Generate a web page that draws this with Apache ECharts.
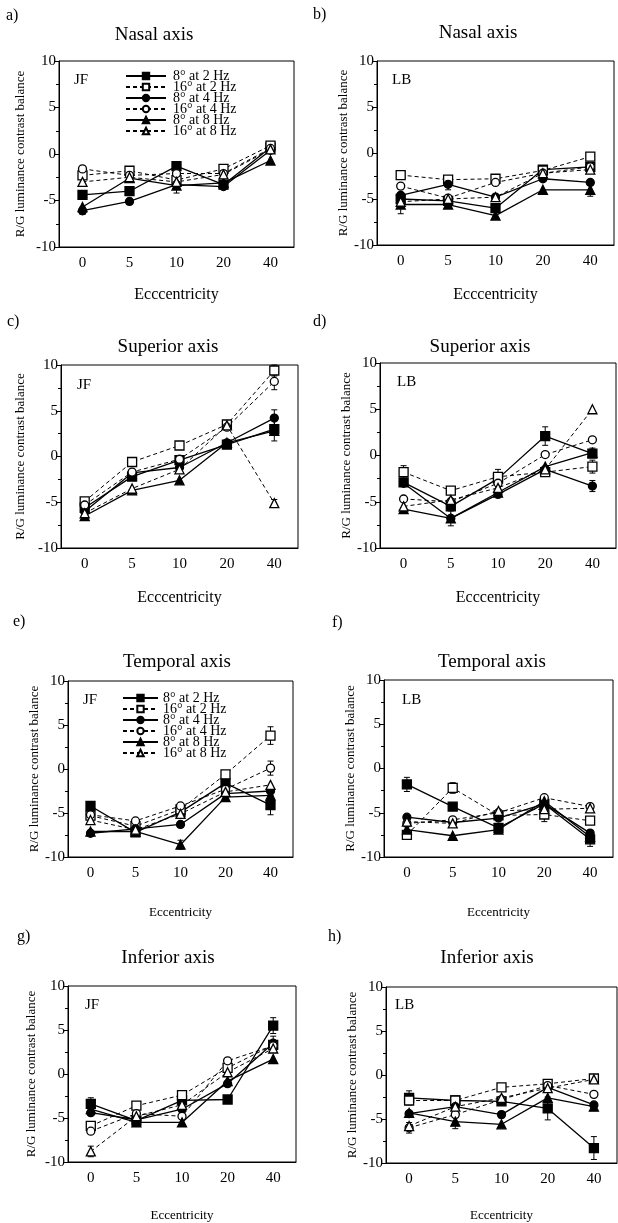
<!DOCTYPE html>
<html>
<head>
<meta charset="utf-8">
<script src="https://cdn.jsdelivr.net/npm/echarts@6/dist/echarts.min.js"></script>
<style>
  html, body { margin: 0; padding: 0; background: #fff; }
</style>
</head>
<body>
<div id="chart" style="width: 618px; height: 1223px"></div>
<script>
const categories = ['0', '5', '10', '20', '40']
const seriesNames = ['8° at 2 Hz', '16° at 2 Hz', '8° at 4 Hz', '16° at 4 Hz', '8° at 8 Hz', '16° at 8 Hz']
const yTicks = [-10, -5, 0, 5, 10]

// rows follow seriesNames order
const nasalJF = [
  [-4.4, -4.0, -1.3, -3.3, 0.7],
  [-2.3, -1.8, -2.8, -1.6, 0.9],
  [-6.1, -5.1, -3.3, -3.5, 0.4],
  [-1.6, -2.3, -2.1, -2.1, 0.6],
  [-5.7, -2.6, -3.4, -3.1, -0.7],
  [-3.0, -2.5, -3.0, -2.2, 0.5]
]
const nasalLB = [
  [-5.0, -5.2, -6.0, -1.8, -1.5],
  [-2.4, -2.9, -2.8, -1.9, -0.4],
  [-4.6, -3.4, -4.8, -2.8, -3.2],
  [-3.6, -4.9, -3.2, -2.2, -1.5],
  [-5.6, -5.6, -6.8, -4.0, -4.0],
  [-5.3, -5.0, -4.8, -2.2, -1.8]
]
const superiorJF = [
  [-5.6, -2.2, -0.4, 1.3, 3.0],
  [-4.9, -0.6, 1.2, 3.5, 9.4],
  [-6.0, -1.8, -1.2, 1.5, 4.2],
  [-5.3, -1.7, -0.3, 3.2, 8.2],
  [-6.5, -3.7, -2.6, 1.5, 2.8],
  [-6.2, -3.5, -1.4, 3.4, -5.1]
]
const superiorLB = [
  [-2.9, -5.5, -2.5, 2.1, 0.2],
  [-1.8, -3.8, -2.3, -1.8, -1.2],
  [-3.0, -6.8, -4.2, -1.5, -3.3],
  [-4.7, -5.0, -3.0, 0.1, 1.7],
  [-5.8, -6.8, -4.0, -1.2, 0.3],
  [-5.5, -4.8, -3.5, -1.5, 5.0]
]
const temporalJF = [
  [-4.2, -7.2, -4.9, -1.6, -4.1],
  [-5.3, -6.5, -4.6, -0.6, 3.8],
  [-7.3, -6.8, -6.3, -2.8, -2.5],
  [-5.2, -5.9, -4.2, -2.3, 0.1],
  [-7.1, -7.1, -8.6, -3.2, -3.0],
  [-5.8, -6.9, -5.1, -2.6, -1.8]
]
const temporalLB = [
  [-1.8, -4.3, -6.7, -4.0, -8.0],
  [-7.5, -2.2, -5.3, -5.2, -5.9],
  [-5.5, -6.1, -5.6, -4.0, -7.3],
  [-6.2, -5.8, -5.0, -3.3, -4.3],
  [-6.9, -7.6, -6.9, -3.7, -7.7],
  [-6.0, -6.2, -4.8, -4.6, -4.5]
]
const inferiorJF = [
  [-3.4, -5.3, -3.0, -2.9, 5.5],
  [-5.9, -3.6, -2.4, 0.7, 3.3],
  [-4.4, -5.2, -4.0, -1.1, 3.5],
  [-6.5, -4.5, -4.8, 1.5, 3.2],
  [-4.0, -5.5, -5.5, -0.8, 1.7],
  [-8.8, -4.8, -3.5, 0.2, 2.9]
]
const inferiorLB = [
  [-2.6, -2.9, -3.0, -3.8, -8.3],
  [-2.9, -2.9, -1.4, -1.0, -0.4],
  [-4.4, -3.6, -4.5, -1.4, -3.4],
  [-6.0, -4.5, -2.8, -1.2, -2.2],
  [-4.3, -5.3, -5.6, -2.6, -3.6],
  [-5.8, -3.6, -2.6, -1.5, -0.5]
]

// error bars: [series index, category index, half length]
const nasalJFErr = [[4, 2, 0.8], [2, 0, 0.4], [0, 4, 0.3]]
const nasalLBErr = [[4, 0, 1.0], [4, 4, 0.7], [2, 1, 0.6]]
const superiorJFErr = [[1, 4, 0.6], [3, 4, 0.9], [2, 4, 0.9], [0, 4, 1.3], [5, 4, 0.4]]
const superiorLBErr = [[0, 2, 1.0], [0, 3, 1.0], [4, 4, 0.5], [2, 1, 0.8], [1, 0, 0.7], [2, 4, 0.6], [1, 4, 0.7]]
const temporalJFErr = [[1, 4, 1.0], [3, 4, 0.8], [0, 4, 1.1], [4, 2, 0.5]]
const temporalLBErr = [[0, 0, 0.8], [1, 1, 0.6], [1, 3, 0.8], [0, 4, 0.8]]
const inferiorJFErr = [[0, 4, 0.9], [0, 0, 0.7], [5, 0, 0.6], [2, 4, 0.8]]
const inferiorLBErr = [[0, 4, 1.3], [0, 3, 1.3], [4, 1, 0.8], [3, 0, 0.6], [0, 0, 0.8]]

const fontFam = '"Liberation Serif", "DejaVu Serif", serif'
const symbols = ['rect', 'rect', 'circle', 'circle', 'triangle', 'triangle']
const symbolSizes = [9, 9, 8, 8, 9, 9]

const panels = [
  { letter: 'a)', lx: 6, ly: 16, title: 'Nasal axis', tx: 154, ty: 35, subj: 'JF', sx: 74, sy: 80,
    data: nasalJF, err: nasalJFErr, xName: 'Ecccentricity', xNameSize: 16, xGap: 40, yGap: 32,
    grid: { left: 59, top: 61, width: 235, height: 186 } },
  { letter: 'b)', lx: 313, ly: 15, title: 'Nasal axis', tx: 478, ty: 33, subj: 'LB', sx: 392, sy: 80,
    data: nasalLB, err: nasalLBErr, xName: 'Ecccentricity', xNameSize: 16, xGap: 42, yGap: 26,
    grid: { left: 377, top: 61, width: 237, height: 184 } },
  { letter: 'c)', lx: 7, ly: 322, title: 'Superior axis', tx: 168, ty: 347, subj: 'JF', sx: 77, sy: 385,
    data: superiorJF, err: superiorJFErr, xName: 'Ecccentricity', xNameSize: 16, xGap: 42, yGap: 34,
    grid: { left: 61, top: 365, width: 237, height: 183 } },
  { letter: 'd)', lx: 313, ly: 322, title: 'Superior axis', tx: 480, ty: 347, subj: 'LB', sx: 397, sy: 382,
    data: superiorLB, err: superiorLBErr, xName: 'Ecccentricity', xNameSize: 16, xGap: 42, yGap: 26,
    grid: { left: 380, top: 363, width: 236, height: 185 } },
  { letter: 'e)', lx: 13, ly: 622, title: 'Temporal axis', tx: 177, ty: 662, subj: 'JF', sx: 83, sy: 700,
    data: temporalJF, err: temporalJFErr, xName: 'Eccentricity', xNameSize: 13, xGap: 49, yGap: 25,
    grid: { left: 68, top: 681, width: 225, height: 176 } },
  { letter: 'f)', lx: 332, ly: 623, title: 'Temporal axis', tx: 492, ty: 662, subj: 'LB', sx: 402, sy: 700,
    data: temporalLB, err: temporalLBErr, xName: 'Eccentricity', xNameSize: 13, xGap: 49, yGap: 22,
    grid: { left: 384, top: 680, width: 229, height: 177 } },
  { letter: 'g)', lx: 17, ly: 937, title: 'Inferior axis', tx: 168, ty: 958, subj: 'JF', sx: 85, sy: 1005,
    data: inferiorJF, err: inferiorJFErr, xName: 'Eccentricity', xNameSize: 13, xGap: 47, yGap: 30,
    grid: { left: 68, top: 986, width: 228, height: 178 } },
  { letter: 'h)', lx: 328, ly: 937, title: 'Inferior axis', tx: 487, ty: 958, subj: 'LB', sx: 395, sy: 1005,
    data: inferiorLB, err: inferiorLBErr, xName: 'Eccentricity', xNameSize: 13, xGap: 46, yGap: 14,
    grid: { left: 386, top: 987, width: 231, height: 176 } }
]

const chart = echarts.init(document.getElementById('chart'), null, { renderer: 'canvas' })

const grids = []
const xAxes = []
const yAxes = []
const series = []
const graphics = []

const errRender = (params, api) => {
  const lo = api.coord([api.value(0), api.value(1)])
  const hi = api.coord([api.value(0), api.value(2)])
  const cap = 3
  const st = { stroke: '#000', lineWidth: 1 }
  return {
    type: 'group',
    children: [
      { type: 'line', shape: { x1: lo[0], y1: lo[1], x2: hi[0], y2: hi[1] }, style: st },
      { type: 'line', shape: { x1: lo[0] - cap, y1: lo[1], x2: lo[0] + cap, y2: lo[1] }, style: st },
      { type: 'line', shape: { x1: hi[0] - cap, y1: hi[1], x2: hi[0] + cap, y2: hi[1] }, style: st }
    ]
  }
}

panels.forEach((p, pi) => {
  grids.push({ ...p.grid, show: true, borderColor: '#000', borderWidth: 1, backgroundColor: 'transparent' })

  // category ticks with labels
  xAxes.push({
    type: 'category',
    gridIndex: pi,
    position: 'bottom',
    data: categories,
    boundaryGap: true,
    axisLine: { onZero: false, lineStyle: { color: '#000', width: 1 } },
    axisTick: { alignWithLabel: true, length: 5, lineStyle: { color: '#000' } },
    axisLabel: { color: '#000', fontFamily: fontFam, fontSize: 15, margin: 9 },
    name: p.xName,
    nameLocation: 'middle',
    nameGap: p.xGap,
    nameTextStyle: { color: '#000', fontFamily: fontFam, fontSize: p.xNameSize },
    splitLine: { show: false }
  })
  // short ticks between categories
  xAxes.push({
    type: 'category',
    gridIndex: pi,
    position: 'bottom',
    data: categories,
    boundaryGap: true,
    axisLine: { show: false, onZero: false },
    axisTick: { length: 3, lineStyle: { color: '#000' } },
    axisLabel: { show: false },
    splitLine: { show: false }
  })

  yAxes.push({
    type: 'value',
    gridIndex: pi,
    min: yTicks[0],
    max: yTicks[yTicks.length - 1],
    interval: 5,
    axisLine: { show: true, onZero: false, lineStyle: { color: '#000', width: 1 } },
    axisTick: { show: true, length: 5, lineStyle: { color: '#000' } },
    minorTick: { show: true, splitNumber: 2, length: 3, lineStyle: { color: '#000' } },
    splitLine: { show: false },
    axisLabel: { color: '#000', fontFamily: fontFam, fontSize: 15, margin: 3 },
    name: 'R/G luminance contrast balance',
    nameLocation: 'middle',
    nameRotate: 90,
    nameGap: p.yGap,
    nameTextStyle: { color: '#000', fontFamily: fontFam, fontSize: 13 }
  })

  p.data.forEach((vals, s) => {
    const open = s % 2 === 1
    series.push({
      type: 'line',
      name: seriesNames[s],
      xAxisIndex: pi * 2,
      yAxisIndex: pi,
      data: vals,
      symbol: symbols[s],
      symbolSize: symbolSizes[s],
      showAllSymbol: true,
      z: 3,
      lineStyle: { color: '#000', width: open ? 1 : 1.3, type: open ? [4, 3] : 'solid' },
      itemStyle: { color: open ? '#fff' : '#000', borderColor: '#000', borderWidth: 1.3 },
      emphasis: { disabled: true },
      animation: false
    })
  })

  series.push({
    type: 'custom',
    xAxisIndex: pi * 2,
    yAxisIndex: pi,
    z: 2,
    silent: true,
    renderItem: errRender,
    encode: { x: 0, y: [1, 2] },
    data: p.err.map(([s, c, e]) => [c, p.data[s][c] - e, p.data[s][c] + e]),
    animation: false
  })

  graphics.push(
    { type: 'text', x: p.lx, y: p.ly, style: { text: p.letter, font: '16px ' + fontFam, fill: '#000', textVerticalAlign: 'middle' } },
    { type: 'text', x: p.tx, y: p.ty, style: { text: p.title, font: '19px ' + fontFam, fill: '#000', textAlign: 'center', textVerticalAlign: 'middle' } },
    { type: 'text', x: p.sx, y: p.sy, style: { text: p.subj, font: '15px ' + fontFam, fill: '#000', textVerticalAlign: 'middle' } }
  )
})

const legendBase = {
  data: seriesNames,
  orient: 'vertical',
  itemWidth: 40,
  itemHeight: 8,
  itemGap: -3,
  selectedMode: false,
  textStyle: { color: '#000', fontFamily: fontFam, fontSize: 14, lineHeight: 11.5 }
}

const option = {
  backgroundColor: '#fff',
  animation: false,
  grid: grids,
  xAxis: xAxes,
  yAxis: yAxes,
  legend: [
    { ...legendBase, left: 120, top: 64, textStyle: { ...legendBase.textStyle, padding: [0, 0, 0, 2] } },
    { ...legendBase, left: 117, top: 686, itemWidth: 35 }
  ],
  graphic: graphics,
  series: series
}

chart.setOption(option)
</script>
</body>
</html>
